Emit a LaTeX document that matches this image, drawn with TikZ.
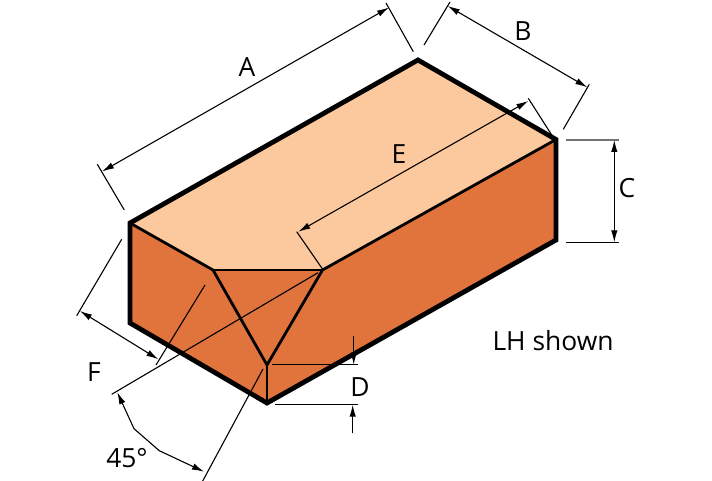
\documentclass[tikz,border=0pt]{standalone}
\usepackage{fontspec}
\setmainfont{Open Sans}
\usetikzlibrary{arrows.meta}
\definecolor{topface}{HTML}{FCC99E}
\definecolor{sideface}{HTML}{E0743C}
\tikzset{
  outline/.style={line width=4.8bp,line join=miter,line cap=butt},
  edgeline/.style={line width=2.8bp,line join=miter},
  extline/.style={line width=1.1bp,black},
  dim/.style={line width=1.1bp,black,{Latex[length=12bp,width=6.5bp]}-{Latex[length=12bp,width=6.5bp]}},
  tip/.style={line width=1.1bp,black,-{Latex[length=12bp,width=6.5bp]}},
  lab/.style={font=\fontsize{26.5}{30}\selectfont,inner sep=0pt,text=black},
}
\begin{document}
\begin{tikzpicture}[x=1bp,y=-1bp]
\useasboundingbox (0,0) rectangle (712,481);
% brick corners
\coordinate (back) at (418,60);
\coordinate (right) at (556,139.5);
\coordinate (rightb) at (556,240);
\coordinate (front) at (267,403);
\coordinate (leftb) at (130,323);
\coordinate (left) at (130,223);
\coordinate (chl) at (213,270);
\coordinate (chr) at (322.5,270);
\coordinate (chb) at (267,365);
% faces
\fill[topface] (left) -- (back) -- (right) -- (chr) -- (chl) -- cycle;
\fill[sideface] (left) -- (chl) -- (chr) -- (right) -- (rightb) -- (front) -- (leftb) -- cycle;
% inner edges
\draw[edgeline] (left) -- (chl) -- (chb) -- (chr) -- (right);
\draw[edgeline] (chl) -- (chr);
\draw[edgeline] (chb) -- (front);
% outline
\draw[outline] (left) -- (back) -- (right) -- (rightb) -- (front) -- (leftb) -- cycle;
% A
\coordinate (a1) at (97.3,164.3); \coordinate (a2) at (124.3,210);
\coordinate (a3) at (386,3); \coordinate (a4) at (413.3,51.7);
\coordinate (a5) at (102,171.5); \coordinate (a6) at (389,7.5);
\draw[extline] (a1) -- (a2);
\draw[extline] (a3) -- (a4);
\draw[dim] (a5) -- (a6);
% B
\coordinate (b1) at (450,2); \coordinate (b2) at (424,45);
\coordinate (b3) at (589.3,84.3); \coordinate (b4) at (563.3,129.3);
\coordinate (b5) at (447.7,6); \coordinate (b6) at (587.3,87.3);
\draw[extline] (b1) -- (b2);
\draw[extline] (b3) -- (b4);
\draw[dim] (b5) -- (b6);
% C
\coordinate (c1) at (566,140); \coordinate (c2) at (619,140);
\coordinate (c3) at (566,242.3); \coordinate (c4) at (619,242.3);
\coordinate (c5) at (614.3,140); \coordinate (c6) at (614.3,242.3);
\draw[line width=1.1bp,black!55] (c1) -- (c2);
\draw[extline] (c3) -- (c4);
\draw[dim] (c5) -- (c6);
% D
\coordinate (d1) at (272,364.7); \coordinate (d2) at (357.7,364.7);
\coordinate (d3) at (275,404.7); \coordinate (d4) at (357.7,404.7);
\coordinate (d5) at (353.7,336); \coordinate (d6) at (353.7,364.7);
\coordinate (d7) at (352.7,433.3); \coordinate (d8) at (352.7,404.7);
\draw[extline] (d1) -- (d2);
\draw[extline] (d3) -- (d4);
\draw[tip] (d5) -- (d6);
\draw[tip] (d7) -- (d8);
% E
\coordinate (e1) at (528.3,98.3); \coordinate (e2) at (551.7,135);
\coordinate (e3) at (296.7,231.7); \coordinate (e4) at (322.7,269.3);
\coordinate (e5) at (298.3,231.7); \coordinate (e6) at (528.3,101);
\draw[extline] (e1) -- (e2);
\draw[extline] (e3) -- (e4);
\draw[dim] (e5) -- (e6);
% F
\coordinate (f1) at (121.7,239.3); \coordinate (f2) at (76.7,315.7);
\coordinate (f3) at (205,285); \coordinate (f4) at (156,365);
\coordinate (f5) at (80,311); \coordinate (f6) at (158.3,359.3);
\draw[extline] (f1) -- (f2);
\draw[extline] (f3) -- (f4);
\draw[dim] (f5) -- (f6);
% 45 degrees
\coordinate (g1) at (318,272.7); \coordinate (g2) at (111.7,394.3);
\coordinate (g3) at (263,369); \coordinate (g4) at (202.7,481);
\coordinate (g5) at (117.3,392.3); \coordinate (g6) at (134,428.7);
\coordinate (g7) at (159.3,450.7); \coordinate (g8) at (204,471.7);
\draw[extline] (g1) -- (g2);
\draw[extline] (g3) -- (g4);
\draw[dim] (g5) -- (g6) -- (g7) -- (g8);
% labels
\node[lab] (la) at (247,67) {A};
\node[lab] (lb) at (523,31) {B};
\node[lab] (lc) at (627,188) {C};
\node[lab] (ld) at (360,387) {D};
\node[lab] (le) at (399,154) {E};
\node[lab] (lf) at (94,372) {F};
\node[lab] (lg) at (127,458) {45°};
\node[lab] (lh) at (553,341) {LH shown};
\end{tikzpicture}
\end{document}
